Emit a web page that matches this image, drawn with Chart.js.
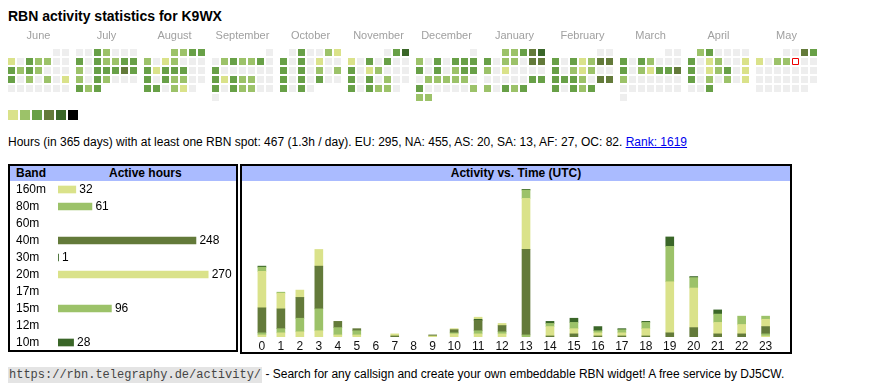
<!DOCTYPE html>
<html>
<head>
<meta charset="utf-8">
<script src="https://cdn.jsdelivr.net/npm/chart.js@4/dist/chart.umd.min.js"></script>
<style>
body { margin: 0; background: #fff; font-family: "Liberation Sans", Arial, sans-serif; color: #000; width: 870px; height: 390px; overflow: hidden; position: relative; }
.abs { position: absolute; }
#title { left: 8px; top: 9px; font-size: 14px; line-height: 14px; font-weight: bold; }
.sw { position: absolute; top: 110px; width: 10px; height: 10px; }
#info { left: 8px; top: 136px; font-size: 12px; line-height: 12px; white-space: nowrap; }
#info a { color: #00e; }
.box { position: absolute; border: 2px solid #000; box-sizing: border-box; }
.head { position: absolute; left: 0; right: 0; top: 0; height: 15px; background: #aabbff; font-weight: bold; font-size: 12px; line-height: 15px; }
#foot { left: 8px; top: 368px; font-size: 12px; line-height: 12px; white-space: nowrap; }
#foot code { font-family: "Liberation Mono", "Courier New", monospace; font-size: 12px; background: #e4e4e4; color: #444; padding: 1px 1px; }
canvas { position: absolute; }
</style>
</head>
<body>
<div id="title" class="abs">RBN activity statistics for K9WX</div>
<canvas id="heat" width="830" height="80" style="left:0;top:26px"></canvas>
<div id="legend"></div>
<div id="info" class="abs">Hours (in 365 days) with at least one RBN spot: 467 (1.3h / day). EU: 295, NA: 455, AS: 20, SA: 13, AF: 27, OC: 82. <a href="#">Rank: 1619</a></div>

<div class="box" style="left:8px;top:164px;width:230px;height:188px">
  <div class="head"><span class="abs" style="left:6px">Band</span><span class="abs" style="left:99px">Active hours</span></div>
</div>
<div class="box" style="left:240px;top:164px;width:552px;height:190px">
  <div class="head" style="text-align:center">Activity vs. Time (UTC)</div>
</div>
<canvas id="bands" width="226" height="170" style="left:10px;top:181px"></canvas>
<canvas id="hours" width="548" height="172" style="left:241px;top:181px"></canvas>

<div id="foot" class="abs"><code>https://rbn.telegraphy.de/activity/</code> - Search for any callsign and create your own embeddable RBN widget! A free service by DJ5CW.</div>

<script>
// colour levels: 0 none, 1..5 greens
const palette = ["#eeeeee", "#dae28a", "#9cc269", "#68a047", "#637a3a", "#3a6628"];

const monthNames = ["June", "July", "August", "September", "October", "November", "December", "January", "February", "March", "April", "May"];
const monthFirst = [[2024, 5], [2024, 6], [2024, 7], [2024, 8], [2024, 9], [2024, 10], [2024, 11], [2025, 0], [2025, 1], [2025, 2], [2025, 3], [2025, 4]];

// activity level per day of month
const jun = [0,0, 1,0,3,2,2,0,0, 3,2,3,2,0,0,0, 3,0,2,0,2,0,1, 0,0,0,0,0,0,0];
const jul = [0,0,3,2,0,0,0, 3,0,3,2,2,3,3, 2,0,3,3,3,4,3, 2,0,3,2,0,0,0, 3,2,3];
const aug = [2,2,3,3, 2,0,1,2,0,0,0, 3,1,3,3,3,0,0, 3,0,3,2,2,0,0, 3,3,0,2,1,0];
const sep = [0, 0,2,3,2,2,3,0, 3,0,0,0,0,0,0, 3,1,3,2,2,0,0, 3,0,3,2,2,0,0, 0];
const oct = [0,3,0,0,2,1, 3,0,3,0,1,0,0, 3,0,3,0,2,0,2, 3,0,3,0,3,0,0, 3,0,3,0];
const nov = [0,3,5, 1,0,3,0,3,0,0, 3,0,1,2,0,0,0, 3,0,3,0,2,0,0, 3,0,3,2,2,0];
const dec = [0, 2,0,3,0,3,3,3, 3,0,3,0,2,3,3, 0,2,2,2,2,2,0, 3,0,0,0,0,0,2, 2,2];
const jan = [2,2,3,4,5, 3,0,2,2,0,4,4, 2,0,1,0,0,0,0, 0,0,0,0,0,3,3, 2,0,3,2,3];
const feb = [0,0, 3,0,3,1,2,4,4, 3,0,2,1,2,0,0, 3,3,3,2,0,4,4, 3,0,3,2,3];
const mar = [0,0, 3,0,3,2,0,0,0, 3,0,2,1,3,3,4, 2,0,0,0,0,0,0, 0,0,0,0,0,0,0, 0];
const apr = [2,3,0,0,0,0, 3,0,1,2,0,0,1, 3,0,1,2,3,0,1, 3,0,2,0,2,0,1, 0,0,3];
const may = [0,0,4,3, 1,0,2,2,0,0,0, 0,0,0,0,0,0,0, 0,0,0,0,0,0,0, 0,0,0,0,0,0];
const dayLevels = [jun, jul, aug, sep, oct, nov, dec, jan, feb, mar, apr, may];
const today = [11, 9]; // month index, day

const bands = ["160m", "80m", "60m", "40m", "30m", "20m", "17m", "15m", "12m", "10m"];
const bandHours = [32, 61, 0, 248, 1, 270, 0, 96, 0, 28];
const bandColors = [palette[1], palette[2], palette[3], palette[4], palette[5], palette[1], palette[2], palette[2], palette[3], palette[5]];

const hourLabels = ["0","1","2","3","4","5","6","7","8","9","10","11","12","13","14","15","16","17","18","19","20","21","22","23"];
const h160 = [2,4,5,6,2,2,0,0,0,1,3,3,3,0,0,0,0,0,0,0,0,0,0,1];
const h80  = [2,4,13,21,7,4,0,0,0,0,1,3,2,2,0,0,0,0,0,0,0,0,0,2];
const h40  = [24,19,20,41,6,2,0,1,0,1,3,10,6,82,1,3,1,1,1,4,9,3,3,7];
const h30  = [0,0,0,0,0,0,0,0,0,0,0,1,0,0,0,0,0,0,0,0,0,0,0,0];
const h20  = [35,15,7,16,0,0,0,2,0,0,1,2,2,49,9,5,3,3,7,49,38,11,9,7];
const h15  = [4,1,0,0,0,0,0,0,0,0,0,0,0,8,3,6,2,3,6,34,10,8,8,3];
const h10  = [1,0,0,0,0,0,0,0,0,0,0,0,0,1,2,4,4,1,1,9,1,4,0,0];

Chart.defaults.font.family = "'Liberation Sans', Arial, sans-serif";
Chart.defaults.font.size = 12;
Chart.defaults.color = "#000";

// legend swatches
var leg = document.getElementById("legend");
palette.slice(1).concat(["#000"]).forEach(function (c, i) {
  var d = document.createElement("div");
  d.className = "sw";
  d.style.left = (8 + i * 12) + "px";
  d.style.background = c;
  leg.appendChild(d);
});

// ---- calendar heatmap ----
const CELL = 9;               // px per cell step
const MONTH_STEP = 68 / CELL; // month block step in cells
var cells = [];
dayLevels.forEach(function (arr, m) {
  var first = (new Date(monthFirst[m][0], monthFirst[m][1], 1).getDay() + 6) % 7;
  arr.forEach(function (lv, i) {
    var pos = first + i;
    cells.push({ x: m * MONTH_STEP + pos % 7, y: Math.floor(pos / 7), lv: lv, today: m == today[0] && i + 1 == today[1] });
  });
});
var xMin = -11.5 / CELL;
new Chart(document.getElementById("heat"), {
  type: "scatter",
  data: {
    datasets: [{
      data: cells,
      pointStyle: "rect",
      pointRadius: function (c) { return c.raw && c.raw.today ? 6 / Math.SQRT2 : 7 / Math.SQRT2; },
      pointHoverRadius: 7 / Math.SQRT2,
      backgroundColor: function (c) { return c.raw && c.raw.today ? "#fff" : palette[c.raw ? c.raw.lv : 0]; },
      borderColor: "#e00",
      borderWidth: function (c) { return c.raw && c.raw.today ? 1 : 0; },
    }],
  },
  options: {
    responsive: false,
    animation: false,
    events: [],
    layout: { padding: 0, autoPadding: false },
    plugins: { legend: { display: false }, tooltip: { enabled: false } },
    scales: {
      x: {
        type: "linear",
        position: "top",
        min: xMin,
        max: xMin + 830 / CELL,
        grid: { display: false, drawTicks: false },
        border: { display: false },
        afterBuildTicks: function (ax) {
          ax.ticks = monthNames.map(function (n, m) { return { value: m * MONTH_STEP + 3 }; });
        },
        afterFit: function (ax) { ax.height = 18; },
        ticks: {
          autoSkip: false, maxRotation: 0, padding: 1, color: "#a0a0a0", font: { size: 11 },
          callback: function (v, i) { return monthNames[i]; },
        },
      },
      y: { display: false, reverse: true, min: -8.5 / CELL, max: -8.5 / CELL + 62 / CELL },
    },
  },
});

// ---- band table bars ----
const valueLabels = {
  id: "valueLabels",
  afterDatasetsDraw: function (chart) {
    var ctx = chart.ctx;
    var meta = chart.getDatasetMeta(0);
    ctx.save();
    ctx.font = "12px 'Liberation Sans', Arial, sans-serif";
    ctx.fillStyle = "#000";
    ctx.textBaseline = "middle";
    meta.data.forEach(function (bar, i) {
      if (bandHours[i] > 0) ctx.fillText(bandHours[i], bar.x + 3.5, bar.y + 0.5);
    });
    ctx.restore();
  },
};
new Chart(document.getElementById("bands"), {
  type: "bar",
  data: {
    labels: bands,
    // empty bands get no bar at all
    datasets: [{ data: bandHours.map(function (v) { return v || null; }), backgroundColor: bandColors, barThickness: 7, borderWidth: 0 }],
  },
  options: {
    indexAxis: "y",
    responsive: false,
    animation: false,
    events: [],
    layout: { padding: { left: 6, right: 0, top: 0, bottom: 0 }, autoPadding: false },
    plugins: { legend: { display: false }, tooltip: { enabled: false } },
    scales: {
      x: { display: false, min: 0, max: 320 },
      y: {
        grid: { display: false, drawTicks: false },
        border: { display: false },
        afterFit: function (ax) { ax.width = 42; ax.paddingTop = 0; ax.paddingBottom = 0; },
        ticks: { autoSkip: false, crossAlign: "far", padding: 0, color: "#000", font: { size: 12 } },
      },
    },
  },
  plugins: [valueLabels],
});

// ---- activity vs time ----
// table columns are as wide as their labels
var colW = hourLabels.map(function (l) { return 14.6 + 5.2 * l.length; });
var centers = [];
var acc = 0;
colW.forEach(function (w) { centers.push(acc + w / 2); acc += w; });
var totals = hourLabels.map(function (l, i) { return h160[i] + h80[i] + h40[i] + h30[i] + h20[i] + h15[i] + h10[i]; });

function series(vals, color) {
  return {
    data: vals.map(function (v, i) { return { x: centers[i], y: v || null }; }),
    backgroundColor: color,
    barThickness: 8,
    borderWidth: 0,
  };
}
new Chart(document.getElementById("hours"), {
  type: "bar",
  data: {
    datasets: [
      series(h160, bandColors[0]),
      series(h80, bandColors[1]),
      series(h40, bandColors[3]),
      series(h30, bandColors[4]),
      series(h20, bandColors[5]),
      series(h15, bandColors[7]),
      series(h10, bandColors[9]),
    ],
  },
  options: {
    responsive: false,
    animation: false,
    events: [],
    layout: { padding: { top: 8, left: 0, right: 0, bottom: 0 }, autoPadding: false },
    plugins: { legend: { display: false }, tooltip: { enabled: false } },
    scales: {
      x: {
        type: "linear",
        stacked: true,
        min: 0,
        max: acc,
        grid: { display: false, drawTicks: false },
        border: { display: false },
        afterBuildTicks: function (ax) { ax.ticks = centers.map(function (c) { return { value: c }; }); },
        afterFit: function (ax) { ax.height = 16; },
        ticks: {
          autoSkip: false, maxRotation: 0, padding: 2, color: "#111", font: { size: 12 },
          callback: function (v, i) { return hourLabels[i]; },
        },
      },
      y: { display: false, stacked: true, min: 0, max: Math.max.apply(null, totals) },
    },
  },
});
</script>
</body>
</html>
